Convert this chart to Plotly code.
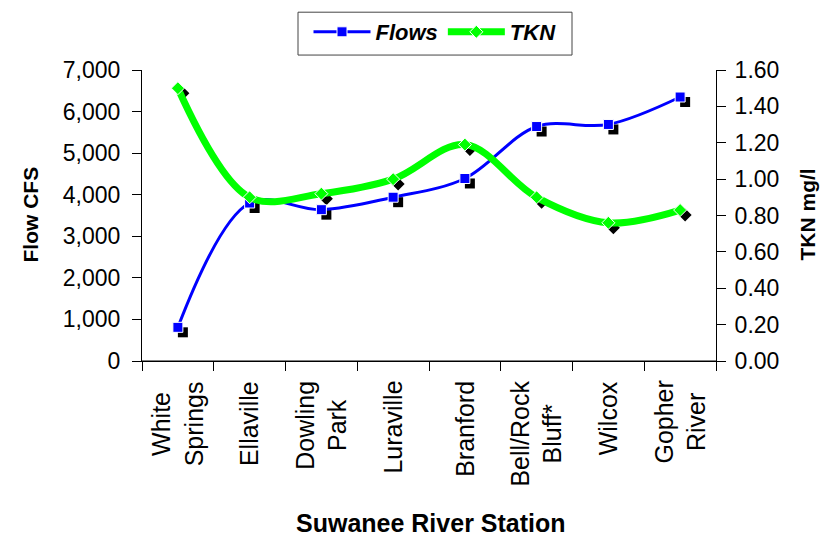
import plotly.graph_objects as go

# Sampling stations along the Suwanee River (upstream -> downstream)
stations = ["White<br>Springs", "Ellaville", "Dowling<br>Park", "Luraville",
            "Branford", "Bell/Rock<br>Bluff*", "Wilcox", "Gopher<br>River"]
flows_cfs = [810, 3800, 3640, 3940, 4390, 5640, 5690, 6350]
tkn_mgl = [1.50, 0.90, 0.92, 1.00, 1.19, 0.90, 0.76, 0.83]

flow_range = [0, 7000]
flow_step = 1000
tkn_range = [0, 1.6]
tkn_step = 0.2

W, H = 822, 550
ML, MR, MT, MB = 142, 106, 69, 189
PW, PH = W - ML - MR, H - MT - MB
FONT = "Liberation Sans, Arial, sans-serif"
BLUE, GREEN = "#0000FF", "#00FF00"
CLEAR = "rgba(0,0,0,0)"


def px_x(p):
    """pixel column -> paper x"""
    return (p - ML) / PW


def px_y(p):
    """pixel row -> paper y"""
    return (PH + MT - p) / PH


# drop-shadow offset (pixels) expressed in each axis' units
SHADOW = 5
n = len(stations)
dx = SHADOW / PW * n
dy_flow = SHADOW / PH * (flow_range[1] - flow_range[0])
dy_tkn = SHADOW / PH * (tkn_range[1] - tkn_range[0])

fig = go.Figure()

# shadows (drawn first, underneath)
fig.add_trace(go.Scatter(x=stations, y=flows_cfs, mode="markers",
                         marker=dict(symbol="square", size=10, color="black"),
                         xaxis="x", yaxis="y", showlegend=False, hoverinfo="skip"))
fig.add_trace(go.Scatter(x=stations, y=tkn_mgl, mode="markers",
                         marker=dict(symbol="diamond", size=10, color="black"),
                         xaxis="x", yaxis="y4", showlegend=False, hoverinfo="skip"))

# main series
fig.add_trace(go.Scatter(x=stations, y=flows_cfs, name="Flows", mode="lines+markers",
                         line=dict(color=BLUE, width=3, shape="spline", smoothing=1),
                         marker=dict(symbol="square", size=10, color=BLUE,
                                     line=dict(color="white", width=1)),
                         xaxis="x2", yaxis="y2"))
fig.add_trace(go.Scatter(x=stations, y=tkn_mgl, name="TKN", mode="lines+markers",
                         line=dict(color=GREEN, width=7, shape="spline", smoothing=1),
                         marker=dict(symbol="diamond", size=10, color=GREEN,
                                     line=dict(color="white", width=1)),
                         xaxis="x2", yaxis="y3"))

hidden = dict(visible=False, showgrid=False, zeroline=False)
tickfont = dict(family=FONT, size=23, color="black")

# station names, rotated, with centred lines, one per category slot
station_labels = [
    dict(text=s, x=(i + 0.5) / n, xref="paper", yref="paper", y=px_y(379), textangle=-90,
         xanchor="center", yanchor="top", align="center", showarrow=False,
         font=dict(family=FONT, size=25, color="black"))
    for i, s in enumerate(stations)
]

fig.update_layout(
    width=W, height=H,
    margin=dict(l=ML, r=MR, t=MT, b=MB),
    paper_bgcolor="white", plot_bgcolor="white",
    font=dict(family=FONT, color="black"),
    # shadow carriers
    xaxis=dict(type="category", categoryorder="array", categoryarray=stations,
               range=[-0.5 - dx, n - 0.5 - dx], **hidden),
    yaxis=dict(range=[flow_range[0] + dy_flow, flow_range[1] + dy_flow], **hidden),
    yaxis4=dict(overlaying="y", range=[tkn_range[0] + dy_tkn, tkn_range[1] + dy_tkn], **hidden),
    # visible axes
    xaxis2=dict(type="category", categoryorder="array", categoryarray=stations,
                overlaying="x", anchor="y", side="bottom",
                range=[-0.5, n - 0.5], tickson="boundaries",
                ticks="outside", ticklen=9, tickcolor="black", tickwidth=1,
                showline=True, linecolor="black", linewidth=1,
                showticklabels=False, showgrid=False, zeroline=False),
    yaxis2=dict(overlaying="y", anchor="x", side="left",
                range=flow_range, dtick=flow_step, tick0=0, tickformat=",d",
                ticks="outside", ticklen=9, tickcolor="black", tickwidth=1,
                showline=True, linecolor="black", linewidth=1, ticklabelstandoff=7,
                tickfont=tickfont, showgrid=False, zeroline=False),
    yaxis3=dict(overlaying="y", anchor="x", side="right",
                range=tkn_range, dtick=tkn_step, tick0=0, tickformat=".2f",
                ticks="outside", ticklen=9, tickcolor="black", tickwidth=1,
                showline=True, linecolor="black", linewidth=1, ticklabelstandoff=4,
                tickfont=tickfont, showgrid=False, zeroline=False),
    legend=dict(orientation="h", x=px_x(435), xanchor="center",
                y=px_y(32), yanchor="middle", itemwidth=57,
                borderwidth=0, bgcolor=CLEAR,
                font=dict(family=FONT, size=22, color="black", weight="bold", style="italic")),
    showlegend=True,
    shapes=[
        # legend frame
        dict(type="rect", xref="paper", yref="paper",
             x0=px_x(298), x1=px_x(572), y0=px_y(54), y1=px_y(11),
             line=dict(color="#444", width=1), fillcolor=CLEAR, layer="above"),
        # category-axis baseline
        dict(type="line", xref="paper", yref="paper", x0=0, x1=1, y0=0, y1=0,
             line=dict(color="black", width=1), layer="above"),
    ],
    annotations=station_labels + [
        dict(text="Flow CFS", textangle=-90, xref="paper", yref="paper",
             x=px_x(31), y=px_y(214), showarrow=False,
             xanchor="center", yanchor="middle",
             font=dict(family=FONT, size=21, color="black", weight="bold")),
        dict(text="TKN mg/l", textangle=-90, xref="paper", yref="paper",
             x=px_x(808), y=px_y(214), showarrow=False,
             xanchor="center", yanchor="middle",
             font=dict(family=FONT, size=21, color="black", weight="bold")),
        dict(text="Suwanee River Station", xref="paper", yref="paper",
             x=px_x(431), y=px_y(524), showarrow=False,
             xanchor="center", yanchor="middle",
             font=dict(family=FONT, size=25, color="black", weight="bold")),
    ],
)

fig.write_html("out.html")
